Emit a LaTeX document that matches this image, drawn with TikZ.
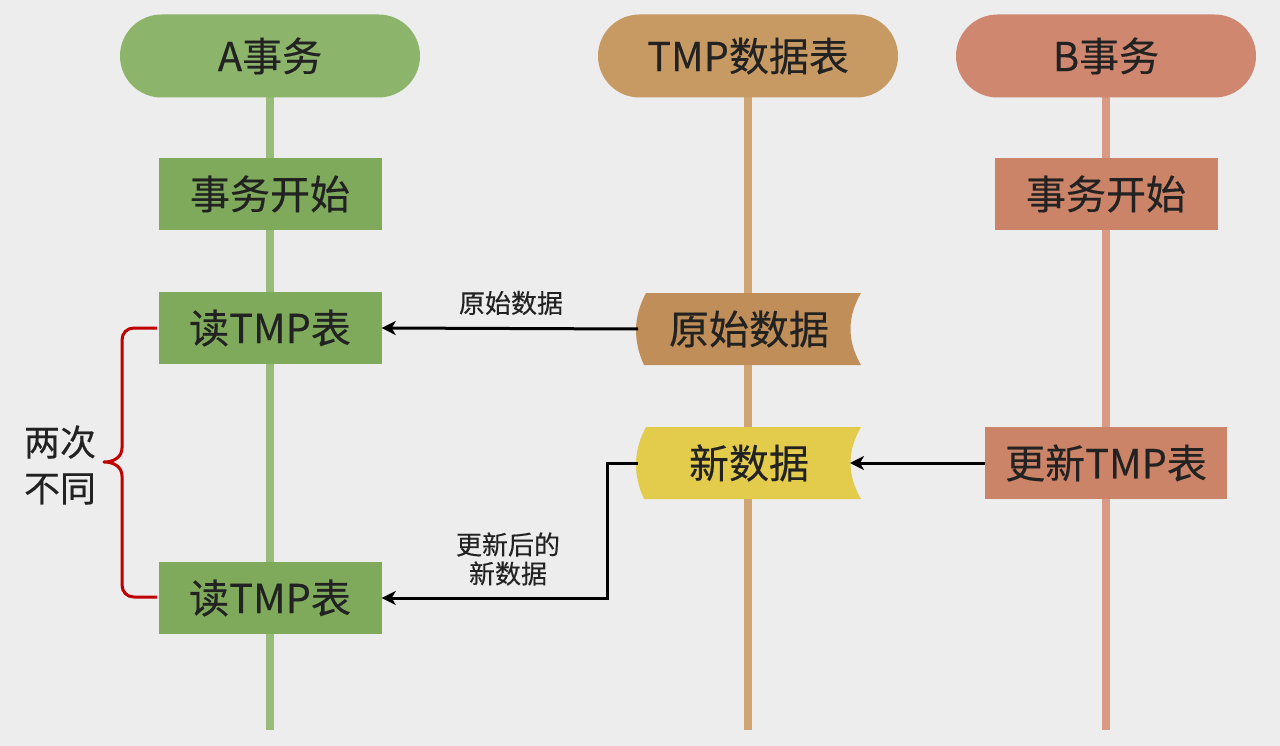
\documentclass[tikz,border=0pt]{standalone}
\usepackage{fontspec}
\setmainfont{Noto Sans CJK SC}[FakeBold=0.3]
\usetikzlibrary{arrows.meta}
\definecolor{bg}{HTML}{EDEDED}
\definecolor{gpill}{HTML}{8CB46B}
\definecolor{gbox}{HTML}{7FAA5B}
\definecolor{gline}{HTML}{98BB7A}
\definecolor{tpill}{HTML}{C79A64}
\definecolor{tbox}{HTML}{C08E58}
\definecolor{tline}{HTML}{CFA574}
\definecolor{spill}{HTML}{D0876F}
\definecolor{sbox}{HTML}{CC8468}
\definecolor{sline}{HTML}{D99A85}
\definecolor{ybox}{HTML}{E3CB4B}
\definecolor{txt}{HTML}{222222}
\definecolor{brace}{HTML}{C00000}
\tikzset{
  pill/.style={rounded corners=41.5pt, minimum width=300pt, minimum height=83pt, inner sep=0pt, text=txt, font=\fontsize{40}{44}\selectfont},
  boxA/.style={fill=gbox, minimum width=223pt, minimum height=72pt, inner sep=0pt, text=txt, font=\fontsize{40}{44}\selectfont},
  lifeline/.style={line width=8pt},
  tape/.style={minimum width=215pt, minimum height=72pt, inner sep=0pt, text=txt, font=\fontsize{40}{44}\selectfont},
  small/.style={text=txt, font=\fontsize{26}{29}\selectfont, align=center, inner sep=0pt},
  big/.style={text=txt, font=\fontsize{36}{46}\selectfont, align=center, inner sep=0pt},
  arr/.style={line width=3pt, black, -{Stealth[length=14pt,width=14pt,inset=4pt]}},
}
\begin{document}
\begin{tikzpicture}[x=1pt,y=-1pt]
\useasboundingbox (0,0) rectangle (1280,746);
\fill[bg] (0,0) rectangle (1280,746);
% lifelines
\coordinate (aend) at (270,730);
\coordinate (tend) at (748,730);
\coordinate (bend) at (1106,730);
\draw[lifeline, gline] (270,56) -- (aend);
\draw[lifeline, tline] (748,56) -- (tend);
\draw[lifeline, sline] (1106,56) -- (bend);
% headers
\node[pill, fill=gpill] (ha) at (270,56) {A事务};
\node[pill, fill=tpill] (ht) at (748,56) {TMP数据表};
\node[pill, fill=spill] (hb) at (1106,56) {B事务};
% A boxes
\node[boxA] (as) at (270,194) {事务开始};
\node[boxA] (ar1) at (270,328) {读TMP表};
\node[boxA] (ar2) at (270,598) {读TMP表};
% B boxes
\node[boxA, fill=sbox] (bs) at (1106,194) {事务开始};
\node[boxA, fill=sbox, minimum width=242pt] (bu) at (1106,463) {更新TMP表};
% tape shapes
\fill[tbox] (646,293) -- (861,293) .. controls (847,317) and (847,341) .. (861,365) -- (644,365) .. controls (633,341) and (633,317) .. (646,293) -- cycle;
\node[tape] (orig) at (749,329) {原始数据};
\fill[ybox] (646,427) -- (861,427) .. controls (847,451) and (847,475) .. (861,499) -- (644,499) .. controls (633,475) and (633,451) .. (646,427) -- cycle;
\node[tape] (newd) at (749,463) {新数据};
% arrows
\draw[arr] (638,329) -- (ar1.east);
\node[small] (l1) at (511,303) {原始数据};
\draw[arr] (bu.west) -- (850,463);
\coordinate (nleft) at (638,463);
\draw[arr] (nleft) -- (607,463) -- (607,598) -- (ar2.east);
\node[small] (l2) at (508,559) {更新后的\\新数据};
% brace
\draw[brace, line width=3pt, line join=round] (157,328) -- (134,328) .. controls (127,328) and (122,333) .. (122,340) -- (122,448) .. controls (122,457) and (114,462) .. (104,462) .. controls (114,462) and (122,467) .. (122,476) -- (122,585) .. controls (122,592) and (127,597) .. (134,597) -- (157,597);
\node[big] (lbl) at (60,465) {两次\\不同};
\end{tikzpicture}
\end{document}
